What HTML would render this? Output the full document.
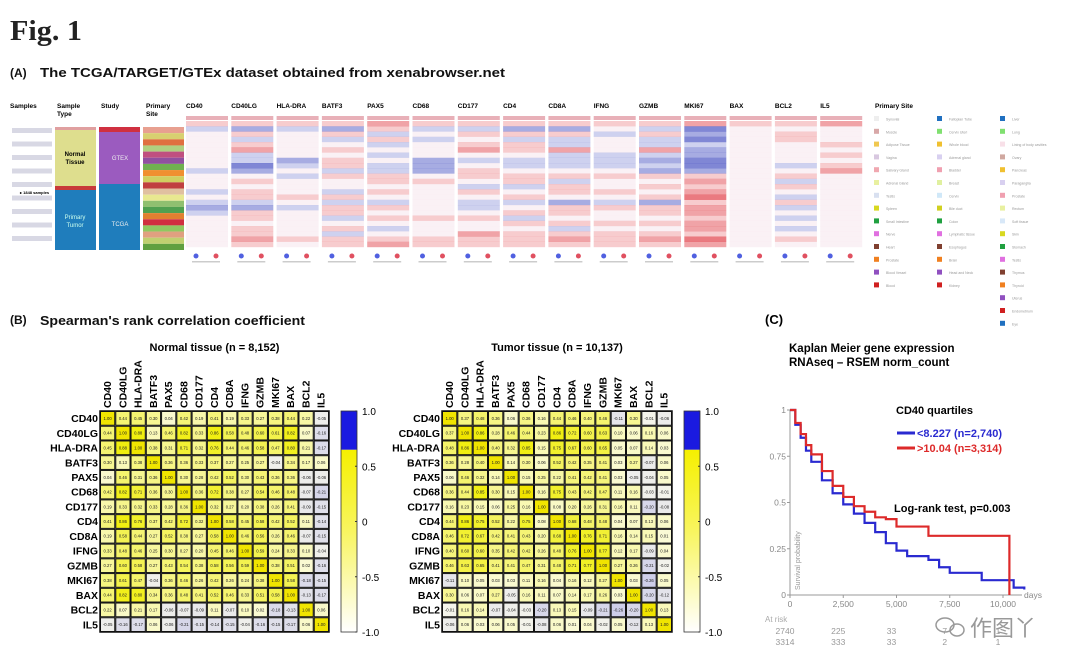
<!DOCTYPE html>
<html><head><meta charset="utf-8">
<style>
html,body{margin:0;padding:0;background:#fff;}
svg{display:block;font-family:"Liberation Sans",Arial,sans-serif;}
.b{font-weight:bold;}
</style></head>
<body>
<svg id="fig" width="1076" height="666" viewBox="0 0 1076 666" xmlns="http://www.w3.org/2000/svg">
<rect width="1076" height="666" fill="#fff"/>
<text x="10" y="40" font-family="Liberation Serif,serif" font-weight="bold" font-size="28" fill="#222" textLength="72" lengthAdjust="spacingAndGlyphs">Fig. 1</text>
<text x="10" y="77" class="b" font-size="12" fill="#111">(A)</text>
<text x="40" y="77" class="b" font-size="13" fill="#111" textLength="465" lengthAdjust="spacingAndGlyphs">The TCGA/TARGET/GTEx dataset obtained from xenabrowser.net</text>
<g id="panelA"></g>
<text x="10" y="324" class="b" font-size="12" fill="#111">(B)</text>
<text x="40" y="325" class="b" font-size="13" fill="#111" textLength="265" lengthAdjust="spacingAndGlyphs">Spearman's rank correlation coefficient</text>
<g id="panelB"></g>
<g id="panelC"></g>
<g fill="none" stroke="#999" stroke-width="1.5">
<ellipse cx="945" cy="625" rx="9" ry="7"/><ellipse cx="957" cy="630" rx="7" ry="6"/>
</g>
<text x="970" y="636" font-family="Noto Sans CJK SC,sans-serif" font-size="22" fill="#999">作图丫</text>
</svg>
<script>
const NS='http://www.w3.org/2000/svg';
function mk(p,tag,at,txt){const e=document.createElementNS(NS,tag);for(const k in at)e.setAttribute(k,at[k]);if(txt!==undefined)e.textContent=txt;p.appendChild(e);return e;}

// ---------- Panel A data ----------
const genes=["CD40","CD40LG","HLA-DRA","BATF3","PAX5","CD68","CD177","CD4","CD8A","IFNG","GZMB","MKI67","BAX","BCL2","IL5"];
const stripes=[
[1,-1,0,0,0,0,0,0,0,-1,0,0,0,-1,0,-1,-2,-1,0,0,0,0,0,0],
[1,-2,1,-1,1,2,-1,-1,-3,-2,0,1,0,1,1,-1,-2,1,1,0,1,1,2,1],
[1,-1,0,0,0,0,0,-2,-1,0,-1,0,0,0,1,0,-1,0,0,0,0,0,1,0],
[1,-2,1,-1,0,1,0,1,1,-1,1,0,0,-1,1,-1,1,1,-1,0,1,-1,1,1],
[2,1,-1,1,-1,0,-1,0,-1,-1,1,1,0,1,0,-1,1,0,1,0,-1,0,1,2],
[1,-1,0,-1,0,0,0,-2,-2,-2,0,1,0,0,0,0,0,0,1,0,0,0,1,1],
[1,-1,1,0,1,2,0,-1,0,1,1,0,-1,1,0,-1,-1,0,1,0,0,2,1,1],
[1,-2,1,-1,1,1,0,-1,-1,0,1,1,-1,0,1,-1,0,1,-1,1,0,1,1,1],
[1,-2,1,-1,-1,2,-1,-1,-1,0,1,-1,1,1,0,-2,1,1,0,1,-1,1,2,1],
[1,0,-1,0,0,0,-1,-1,-1,0,1,0,0,1,0,-1,1,0,0,1,0,1,1,1],
[1,-1,1,-1,-1,2,-1,-2,-1,-2,1,0,1,0,1,-2,1,1,0,1,0,1,2,1],
[2,-3,-2,-3,-1,-2,-2,-3,-3,-2,1,2,1,2,3,1,2,2,1,2,2,1,3,2],
[1,0,0,0,0,0,0,0,0,0,0,0,0,0,0,0,0,0,0,0,0,0,0,0],
[1,0,1,1,0,0,0,0,-1,0,1,-1,1,0,-1,1,-1,0,-1,0,-1,0,1,0],
[2,0,0,0,1,0,1,0,1,2,0,0,0,0,0,0,0,0,0,0,0,0,0,0]];
const siteBands=["#e8a090","#d8d070","#e07040","#b0d080","#c05080","#9050a0","#70b050","#f09030","#d0d060","#c04040","#e0c0a0","#e8e890","#90c070","#50a050","#e08030","#d03040","#90c860","#e0a080","#c0d070","#60a040"];
const siteCols=[
["#eee","#d8a8a8","#f0c850","#d8c8e0","#f0a8b0","#e8f0a0","#d8e0f0","#d8d820","#20a040","#e070e0","#804030","#f08020","#9050c0","#d02020"],
["#2070c0","#80e070","#f0c030","#d8d0f0","#f0a0b0","#e0f0a0","#d0e8f8","#d0d020","#20a040","#e070e0","#804030","#f08020","#9050c0","#d02020"],
["#2070c0","#80e070","#f8e0e8","#d0a8a0","#f0c030","#d8d0f0","#f0a0b0","#e8f0a0","#d8e8f8","#d8d820","#20a040","#e070e0","#804030","#f08020","#9050c0","#d02020","#2070c0"]];
const siteNames=[
["Synovial","Muscle","Adipose Tissue","Vagina","Salivary Gland","Adrenal Gland","Testis","Spleen","Small Intestine","Nerve","Heart","Prostate","Blood Vessel","Blood"],
["Fallopian Tube","Cervix Uteri","Whole blood","Adrenal gland","Bladder","Breast","Cervix","Bile duct","Colon","Lymphatic tissue","Esophagus","Brain","Head and Neck","Kidney"],
["Liver","Lung","Lining of body cavities","Ovary","Pancreas","Paraganglia","Prostate","Rectum","Soft tissue","Skin","Stomach","Testis","Thymus","Thyroid","Uterus","Endometrium","Eye"]];

const A=document.getElementById('panelA');
[["Samples",10],["Sample",57],["Study",101],["Primary",146]].forEach(([t,x])=>{const e=mk(A,'text',{x:x,y:108,'font-size':6.5,'font-weight':'bold'},t);});
mk(A,'text',{x:57,y:116,'font-size':6.5,'font-weight':'bold'},'Type');
mk(A,'text',{x:146,y:116,'font-size':6.5,'font-weight':'bold'},'Site');
for(let i=0;i<9;i++){const r=mk(A,'rect',{x:12,y:128+i*13.5,width:40,height:5,fill:'#d8d8e4'});}
mk(A,'text',{x:20,y:194,'font-size':4,'font-weight':'bold'},'▸ 1848 samples');
mk(A,'rect',{x:55,y:127,width:41,height:3,fill:'#e0a0a0'});
let st=mk(A,'rect',{x:55,y:130,width:41,height:56,fill:'#dede8e'});
mk(A,'rect',{x:55,y:186,width:41,height:4,fill:'#c83a3a'});
st=mk(A,'rect',{x:55,y:190,width:41,height:60,fill:'#1f7dbc'});
mk(A,'text',{x:75,y:156,'font-size':6,'font-weight':'bold','text-anchor':'middle'},'Normal');
mk(A,'text',{x:75,y:164,'font-size':6,'font-weight':'bold','text-anchor':'middle'},'Tissue');
mk(A,'text',{x:75,y:219,'font-size':6,fill:'#cfe','text-anchor':'middle'},'Primary');
mk(A,'text',{x:75,y:227,'font-size':6,fill:'#cfe','text-anchor':'middle'},'Tumor');
mk(A,'rect',{x:99,y:127,width:41,height:5,fill:'#d03040'});
st=mk(A,'rect',{x:99,y:132,width:41,height:52,fill:'#9b5bbf'});
st=mk(A,'rect',{x:99,y:184,width:41,height:66,fill:'#1f7dbc'});
mk(A,'text',{x:120,y:160,'font-size':6,fill:'#eee','text-anchor':'middle'},'GTEX');
mk(A,'text',{x:120,y:226,'font-size':6,fill:'#eee','text-anchor':'middle'},'TCGA');
siteBands.forEach((c,i)=>{const r=mk(A,'rect',{x:143,y:127+i*6.15,width:41,height:6.15,fill:c});});
const gx0=186,gstep=45.3,gw=42,gy0=121,gy1=247;
genes.forEach((g,gi)=>{
  const x=gx0+gi*gstep;
  const t=mk(A,'text',{x:x,y:108,'font-size':6.5,'font-weight':'bold'},g);
  
  mk(A,'rect',{x:x,y:116,width:gw,height:4,fill:'#e8b0b8'});
  const s=stripes[gi],h=(gy1-gy0)/s.length;
  s.forEach((v,i)=>{
    const a=Math.min(1,Math.abs(v)/3)*0.6+0.05;
    const c=v>0?`rgba(222,50,60,${a})`:v<0?`rgba(60,70,190,${a})`:'rgba(240,215,225,0.35)';
    const r=mk(A,'rect',{x:x,y:gy0+i*h,width:gw,height:h+0.2,fill:c});
    
  });
  mk(A,'circle',{cx:x+10,cy:256,r:2.5,fill:'#5060e0'});
  mk(A,'circle',{cx:x+30,cy:256,r:2.5,fill:'#e05060'});
  mk(A,'rect',{x:x+6,y:261,width:28,height:1.5,fill:'#ccc'});
});
mk(A,'text',{x:875,y:108,'font-size':6.5,'font-weight':'bold'},'Primary Site');
const lcx=[874,937,1000];
siteCols.forEach((col,ci)=>col.forEach((c,i)=>{
  const y=116+i*12.8;
  const r=mk(A,'rect',{x:lcx[ci],y:y,width:5,height:5,fill:c});
  
  mk(A,'text',{x:lcx[ci]+12,y:y+4.5,'font-size':3.5,fill:'#999'},siteNames[ci][i]);
}));

// ---------- Panel B data ----------
const normalUpper=[
[1,.44,.45,.30,.04,.42,.19,.41,.19,.33,.27,.38,.44,.22,-.05],
[1,.88,.13,.46,.82,.33,.86,.58,.48,.60,.61,.82,.07,-.16],
[1,.38,.31,.71,.32,.76,.44,.46,.58,.47,.80,.21,-.17],
[1,.36,.36,.33,.37,.27,.25,.27,-.04,.34,.17,.06],
[1,.30,.28,.42,.52,.30,.43,.36,.36,-.06,-.06],
[1,.36,.72,.38,.27,.54,.46,.48,-.07,-.21],
[1,.32,.27,.20,.38,.26,.41,-.09,-.15],
[1,.58,.45,.58,.42,.52,.11,-.14],
[1,.46,.56,.26,.46,-.07,-.15],
[1,.59,.24,.33,.10,-.04],
[1,.38,.51,.02,-.16],
[1,.58,-.18,-.15],
[1,-.13,-.17],
[1,.06],
[1]];
const tumorUpper=[
[1,.37,.48,.36,.06,.36,.16,.44,.46,.40,.46,-.11,.30,-.01,-.06],
[1,.86,.28,.46,.44,.23,.86,.72,.60,.63,.10,.06,.16,.06],
[1,.40,.32,.85,.15,.75,.67,.60,.65,.05,.07,.14,.03],
[1,.14,.30,.06,.52,.42,.35,.41,.03,.27,-.07,.06],
[1,.15,.25,.22,.41,.42,.41,.03,-.05,-.04,.05],
[1,.16,.75,.43,.42,.47,.11,.16,-.03,-.01],
[1,.08,.20,.26,.31,.16,.11,-.20,-.08],
[1,.68,.48,.48,.04,.07,.13,.06],
[1,.76,.71,.16,.14,.15,.01],
[1,.77,.12,.17,-.09,.04],
[1,.27,.26,-.21,-.02],
[1,.03,-.26,.05],
[1,-.20,-.12],
[1,.13],
[1]];
const cbTicks=[1.0,0.5,0,-0.5,-1.0];
const cbTickLabels=["1.0","0.5","0","-0.5","-1.0"];

function cellColor(v){
  if(v>=0.999) return '#f0e400';
  if(v>=0){const t=Math.min(1,v*1.15);const r=Math.round(250-10*t),g=Math.round(250-12*t),b=Math.round(215-200*t);return `rgb(${r},${g},${b})`;}
  const t=Math.min(1,-v*3);return `rgb(${Math.round(245-50*t)},${Math.round(245-50*t)},${Math.round(235-3*t)})`;
}
const B=document.getElementById('panelB');
function corrPlot(name,title,upper,gx,gy,gw,gh,cbx){
  const G=mk(B,'g',{});
  const n=genes.length,cw=gw/n,ch=gh/n;
  const tt=mk(G,'text',{x:gx+gw/2,y:351,'font-size':11,'font-weight':'bold','text-anchor':'middle'},title);
  
  const val=(i,j)=>i<=j?upper[i][j-i]:upper[j][i-j];
  for(let i=0;i<n;i++){
    const rl=mk(G,'text',{x:gx-2,y:gy+i*ch+ch*0.75,'font-size':10.5,'font-weight':'bold','text-anchor':'end'},genes[i]);
    
    const cx=gx+i*cw+cw*0.72;
    const cl=mk(G,'text',{x:0,y:0,'font-size':10.5,'font-weight':'bold',transform:`translate(${cx},${gy-3}) rotate(-90)`},genes[i]);
    
    for(let j=0;j<n;j++){
      const v=val(i,j);
      const r=mk(G,'rect',{x:gx+j*cw+0.5,y:gy+i*ch+0.5,width:cw-1,height:ch-1,fill:cellColor(v),stroke:'#111','stroke-width':1});
      
      const s=(v>=0.999?'1.00':(v<0?'-':'')+Math.abs(v).toFixed(2));
      mk(G,'text',{x:gx+j*cw+cw/2,y:gy+i*ch+ch/2+1.5,'font-size':4.2,'text-anchor':'middle',fill:'#222'},s);
    }
  }
  mk(G,'rect',{x:gx,y:gy,width:gw,height:gh,fill:'none',stroke:'#111','stroke-width':1.5});
  const cbH=gh, yOf=v=>gy+(1-v)/2*cbH;
  const id='grad'+name;
  const defs=mk(G,'defs',{});const lg=mk(defs,'linearGradient',{id:id,x1:0,y1:0,x2:0,y2:1});
  mk(lg,'stop',{offset:'0','stop-color':'#f5f000'});mk(lg,'stop',{offset:'0.45','stop-color':'#f8f560'});mk(lg,'stop',{offset:'1','stop-color':'#ffffff'});
  const cb=mk(G,'rect',{x:cbx,y:yOf(0.65),width:16,height:yOf(-1)-yOf(0.65),fill:`url(#${id})`});
  
  mk(G,'rect',{x:cbx,y:yOf(1),width:16,height:yOf(0.65)-yOf(1),fill:'#1a1ae0'});
  mk(G,'rect',{x:cbx,y:yOf(1),width:16,height:cbH,fill:'none',stroke:'#333','stroke-width':0.8});
  cbTicks.forEach((t,k)=>{
    mk(G,'line',{x1:cbx+14,x2:cbx+16,y1:yOf(t),y2:yOf(t),stroke:'#333'});
    const tl=mk(G,'text',{x:cbx+21,y:yOf(t)+4,'font-size':10},cbTickLabels[k]);
    
  });
}
corrPlot('normal-corr-heatmap','Normal tissue (n = 8,152)',normalUpper,100,411,229,221,341);
corrPlot('tumor-corr-heatmap','Tumor tissue (n = 10,137)',tumorUpper,442,411,230,221,684);

// ---------- Panel C data ----------
const lowTimes=[0,250,500,750,1000,1500,2000,2500,3000,3500,4000,4500,5000,5500,6500,7000,7500,9000,10500,11000];
const lowSurv=[1,0.92,0.85,0.78,0.72,0.62,0.55,0.49,0.44,0.39,0.34,0.28,0.24,0.21,0.19,0.15,0.12,0.08,0.04,0.03];
const highTimes=[0,250,500,750,1000,1500,2000,2500,3000,3500,4000,4500,5000,6500,10300];
const highSurv=[1,0.93,0.87,0.81,0.76,0.67,0.59,0.53,0.48,0.45,0.42,0.41,0.37,0.32,0];
const xTicks=[0,2500,5000,7500,10000];
const xTickLabels=["0","2,500","5,000","7,500","10,000"];
const yTicks=[0,0.25,0.5,0.75,1];
const yTickLabels=["0","0.25","0.5","0.75","1"];
const atRiskLow=["2740","225","33","7","1"];
const atRiskHigh=["3314","333","33","2","1"];

const C=document.getElementById('panelC');
const X=t=>790+t*(1003-790)/10000, Y=s=>595-s*185;
mk(C,'text',{x:765,y:324,'font-size':13,'font-weight':'bold'},'(C)');
const kt=mk(C,'text',{x:789,y:352,'font-size':11.5,'font-weight':'bold'},'Kaplan Meier gene expression');

mk(C,'text',{x:789,y:366,'font-size':11.5,'font-weight':'bold'},'RNAseq – RSEM norm_count');
mk(C,'line',{x1:790,y1:410,x2:790,y2:595,stroke:'#999'});
mk(C,'line',{x1:790,y1:595,x2:1022,y2:595,stroke:'#999'});
yTicks.forEach((t,k)=>{mk(C,'line',{x1:787,x2:790,y1:Y(t),y2:Y(t),stroke:'#999'});
  const l=mk(C,'text',{x:786,y:Y(t)+3,'font-size':8.5,fill:'#888','text-anchor':'end'},yTickLabels[k]);
  });
xTicks.forEach((t,k)=>{mk(C,'line',{x1:X(t),x2:X(t),y1:595,y2:598,stroke:'#999'});
  const l=mk(C,'text',{x:X(t),y:607,'font-size':8.5,fill:'#888','text-anchor':'middle'},xTickLabels[k]);
  
  mk(C,'text',{x:X(t)-5,y:634,'font-size':8.5,fill:'#999','text-anchor':'middle'},atRiskLow[k]);
  mk(C,'text',{x:X(t)-5,y:645,'font-size':8.5,fill:'#999','text-anchor':'middle'},atRiskHigh[k]);});
mk(C,'text',{x:1024,y:598,'font-size':8.5,fill:'#888'},'days');
mk(C,'text',{x:765,y:622,'font-size':8,fill:'#aaa'},'At risk');
mk(C,'text',{x:0,y:0,'font-size':7,fill:'#999',transform:'translate(800,590) rotate(-90)'},'Survival probability');
function stepPath(ts,ss){let d=`M${X(ts[0])},${Y(ss[0])}`;for(let i=1;i<ts.length;i++){d+=` H${X(ts[i])} V${Y(ss[i])}`;}return d;}
let p=mk(C,'path',{d:stepPath(lowTimes,lowSurv),fill:'none',stroke:'#2a2ad0','stroke-width':2.2});

p=mk(C,'path',{d:stepPath(highTimes,highSurv),fill:'none',stroke:'#dd2a2a','stroke-width':2.2});

mk(C,'text',{x:896,y:414,'font-size':11,'font-weight':'bold'},'CD40 quartiles');
let lg=mk(C,'line',{x1:897,x2:915,y1:433,y2:433,stroke:'#2a2ad0','stroke-width':3});
mk(C,'text',{x:917,y:437,'font-size':11,'font-weight':'bold',fill:'#2a2ad0'},'<8.227 (n=2,740)');
lg=mk(C,'line',{x1:897,x2:915,y1:448,y2:448,stroke:'#dd2a2a','stroke-width':3});
mk(C,'text',{x:917,y:452,'font-size':11,'font-weight':'bold',fill:'#dd2a2a'},'>10.04 (n=3,314)');
const lr=mk(C,'text',{x:894,y:512,'font-size':11,'font-weight':'bold'},'Log-rank test, p=0.003');

</script>
</body></html>
